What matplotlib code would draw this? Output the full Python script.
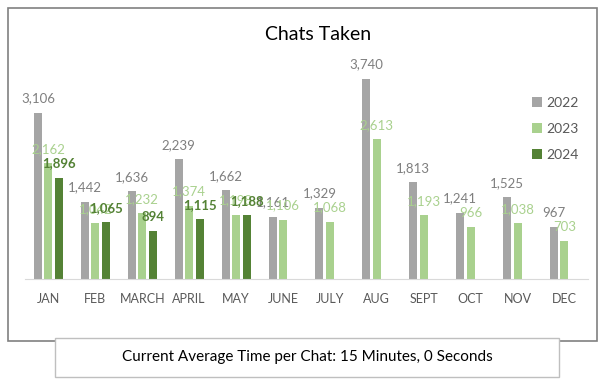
import matplotlib
matplotlib.use("Agg")
import matplotlib.pyplot as plt
from matplotlib.patches import Rectangle
import numpy as np

plt.rcParams['font.family'] = ['Lato', 'DejaVu Sans']

months = ['JAN', 'FEB', 'MARCH', 'APRIL', 'MAY', 'JUNE', 'JULY',
          'AUG', 'SEPT', 'OCT', 'NOV', 'DEC']
chats_2022 = [3106, 1442, 1636, 2239, 1662, 1161, 1329, 3740, 1813, 1241, 1525, 967]
chats_2023 = [2162, 1042, 1232, 1374, 1198, 1106, 1068, 2613, 1193, 966, 1038, 703]
chats_2024 = [1896, 1065, 894, 1115, 1188]

series = [
    ('2022', chats_2022, '#a5a5a5', '#7f7f7f', 'normal'),
    ('2023', chats_2023, '#a9d18e', '#a9d18e', 'normal'),
    ('2024', chats_2024, '#548235', '#548235', 'bold'),
]

fig = plt.figure(figsize=(6.03, 3.87), dpi=100)
fig.patch.set_facecolor('white')

# outer chart border and footer box
fig.patches.append(Rectangle((0.0133, 0.119), 0.977, 0.860, transform=fig.transFigure,
                             fill=False, edgecolor='#808080', linewidth=1.2))
fig.patches.append(Rectangle((0.0912, 0.0258), 0.836, 0.1008, transform=fig.transFigure,
                             facecolor='white', edgecolor='#bfbfbf', linewidth=1.0, zorder=5))
fig.text(0.509, 0.0775, 'Current Average Time per Chat: 15 Minutes, 0 Seconds',
         ha='center', va='center', fontsize=11, color='black', zorder=6)

ax = fig.add_axes([0.0415, 0.279, 0.9335, 0.553])
x = np.arange(len(months))
step = 0.224
width = 0.17
for i, (name, vals, col, lcol, weight) in enumerate(series):
    xs = x[:len(vals)] + (i - 1) * step
    bars = ax.bar(xs, vals, width=width, color=col, label=name)
    for b, v in zip(bars, vals):
        ax.annotate(f'{v:,}', (b.get_x() + b.get_width() / 2, v),
                    xytext=(0, 6), textcoords='offset points',
                    ha='center', va='bottom', fontsize=9.5,
                    color=lcol, fontweight=weight)

ax.set_xlim(-0.5, len(months) - 0.5)
ax.set_ylim(0, 4000)
ax.set_xticks(x)
ax.set_xticklabels(months, fontsize=9, color='#595959')
ax.tick_params(axis='x', length=0, pad=10)
ax.set_yticks([])
for s in ['top', 'right', 'left']:
    ax.spines[s].set_visible(False)
ax.spines['bottom'].set_color('#d9d9d9')

fig.text(0.527, 0.91, 'Chats Taken', ha='center', va='center', fontsize=14, color='black')

ax.legend(loc='upper right', bbox_to_anchor=(1.005, 0.91), frameon=False,
          fontsize=10, labelcolor='#595959', handlelength=0.7, handleheight=0.7,
          handletextpad=0.3, labelspacing=1.0)

fig.savefig('out.png', dpi=100)
